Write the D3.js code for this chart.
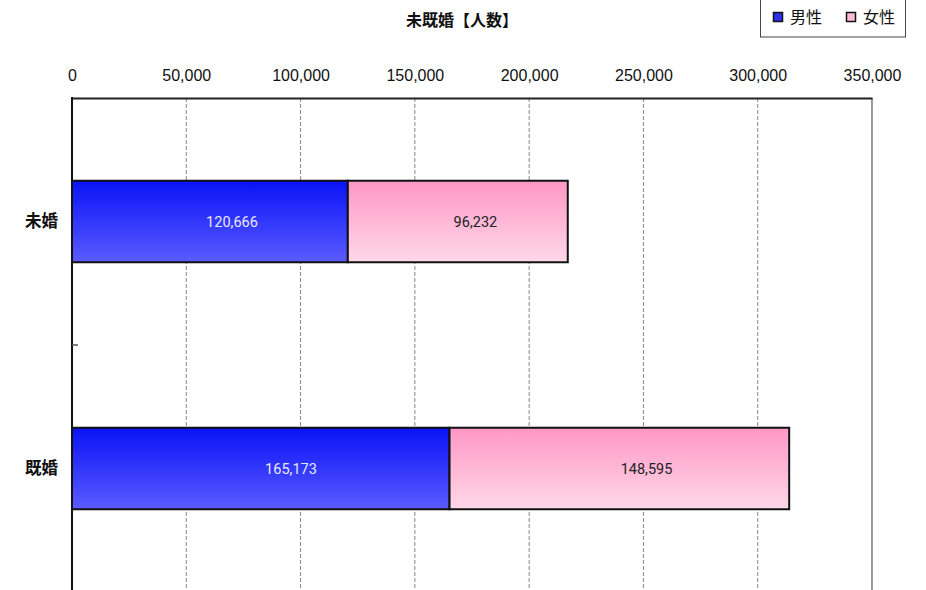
<!DOCTYPE html>
<html>
<head>
<meta charset="utf-8">
<script src="https://cdn.jsdelivr.net/npm/d3@7"></script>
<style>
body{margin:0;background:#fff;}
svg{display:block;}
</style>
</head>
<body>
<div id="canvas"></div>
<script>
// data
var categories = ['未婚','既婚'];
var seriesNames = ['男性','女性'];
var male = [120666,165173];
var female = [96232,148595];
var xTicks = [0,50000,100000,150000,200000,250000,300000,350000];

var W = 926, H = 590;
var m = {t:98,l:72,r:54};

var svg = d3.select('#canvas').append('svg')
    .attr('width',W).attr('height',H);

var defs = svg.append('defs');
function grad(id, top, bottom){
    var g = defs.append('linearGradient').attr('id',id)
        .attr('x1',0).attr('y1',0).attr('x2',0).attr('y2',1);
    g.append('stop').attr('offset','0%').attr('stop-color',top);
    g.append('stop').attr('offset','100%').attr('stop-color',bottom);
}
grad('gMale','#0a12f6','#5a5cff');
grad('gFemale','#ff97c6','#ffd8e8');
var fills = ['url(#gMale)','url(#gFemale)'];
var swatch = ['#3030f0','#ffbcd8'];
var labelColor = ['#e8e8ff','#222'];

var x = d3.scaleLinear().domain([0,350000]).range([m.l, W - m.r]);
var y = d3.scaleBand().domain(categories).range([m.t, 592]);

// gridlines
svg.append('g').selectAll('line')
    .data(xTicks.slice(1,-1))
  .enter().append('line')
    .attr('x1',function(d){return x(d);}).attr('x2',function(d){return x(d);})
    .attr('y1',m.t).attr('y2',H)
    .attr('stroke','#888').attr('stroke-width',1)
    .attr('stroke-dasharray','4,2');

// right edge
svg.append('line')
    .attr('x1',x(350000)).attr('x2',x(350000))
    .attr('y1',m.t).attr('y2',H)
    .attr('stroke','#666').attr('stroke-width',1.3);

// stacked bars
var rows = categories.map(function(c,i){
    return [{cat:c,s:0,x0:0,v:male[i]},{cat:c,s:1,x0:male[i],v:female[i]}];
});
var barH = y.bandwidth()*0.33;
var segs = svg.append('g').selectAll('g')
    .data(d3.merge(rows))
  .enter().append('g');

segs.append('rect')
    .attr('x',function(d){return x(d.x0);})
    .attr('y',function(d){return y(d.cat) + (y.bandwidth()-barH)/2;})
    .attr('width',function(d){return x(d.x0+d.v) - x(d.x0);})
    .attr('height',barH)
    .attr('fill',function(d){return fills[d.s];})
    .attr('stroke','#111').attr('stroke-width',2);

segs.append('text')
    .attr('x',function(d){return x(d.x0) + (x(d.x0+d.v) - x(d.x0))*0.58;})
    .attr('y',function(d){return y(d.cat) + y.bandwidth()/2;})
    .attr('dy','0.35em')
    .attr('text-anchor','middle')
    .attr('font-family','Roboto, "Liberation Sans", sans-serif')
    .attr('font-size',14.5)
    .attr('fill',function(d){return labelColor[d.s];})
    .text(function(d){return d3.format(',')(d.v);});

// top axis
var xAxis = svg.append('g')
    .attr('transform','translate(0,' + m.t + ')')
    .call(d3.axisTop(x).tickValues(xTicks).tickFormat(d3.format(',')).tickSize(0).tickPadding(17));
xAxis.select('.domain').attr('stroke','#222').attr('stroke-width',2);
xAxis.selectAll('text')
    .attr('font-family','"Liberation Sans", Arial, sans-serif')
    .attr('font-size',16).attr('fill','#111');

// left axis
var yAxis = svg.append('g')
    .attr('transform','translate(' + m.l + ',0)')
    .call(d3.axisLeft(y).tickSize(0).tickPadding(14));
yAxis.select('.domain').remove();
yAxis.selectAll('text')
    .attr('font-family','"Noto Sans CJK JP", sans-serif')
    .attr('font-weight','bold')
    .attr('font-size',16.5).attr('fill','#111');
svg.append('line')
    .attr('x1',m.l).attr('x2',m.l).attr('y1',m.t - 1).attr('y2',H)
    .attr('stroke','#111').attr('stroke-width',2);
// band boundary tick
svg.append('line')
    .attr('x1',m.l).attr('x2',m.l + 6)
    .attr('y1',y(categories[1])).attr('y2',y(categories[1]))
    .attr('stroke','#555').attr('stroke-width',1.5);

// title
svg.append('text')
    .attr('x',462).attr('y',26)
    .attr('text-anchor','middle')
    .attr('font-family','"Noto Sans CJK JP", sans-serif')
    .attr('font-weight','bold')
    .attr('font-size',16).attr('fill','#111')
    .text('未既婚【人数】');

// legend
var lg = svg.append('g').attr('transform','translate(760,0)');
lg.append('rect').attr('x',0.5).attr('y',-2).attr('width',145).attr('height',39)
    .attr('fill','#fff').attr('stroke','#444').attr('stroke-width',1);
var item = lg.selectAll('.item').data(seriesNames)
  .enter().append('g')
    .attr('transform',function(d,i){return 'translate(' + (13 + i*73) + ',0)';});
item.append('rect').attr('x',0.5).attr('y',12.5).attr('width',9).attr('height',9)
    .attr('fill',function(d,i){return swatch[i];})
    .attr('stroke','#111').attr('stroke-width',1.5);
item.append('text').attr('x',17).attr('y',17).attr('dy','0.35em')
    .attr('font-family','"Noto Sans CJK JP", sans-serif')
    .attr('font-size',16).attr('fill','#111')
    .text(function(d){return d;});
</script>
</body>
</html>
